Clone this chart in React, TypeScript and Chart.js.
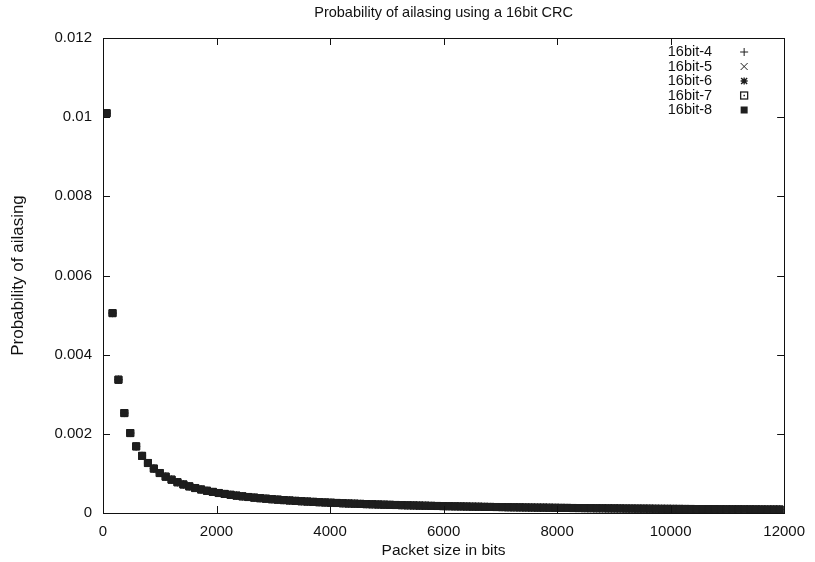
import { useEffect, useRef } from 'react';
import { Chart, registerables } from 'chart.js';

Chart.register(...registerables);

// Packet sizes (bits)
const packetSizes = [
  64, 168, 272, 376, 480, 584, 688, 792, 896, 1000,
  1104, 1208, 1312, 1416, 1520, 1624, 1728, 1832, 1936, 2040,
  2144, 2248, 2352, 2456, 2560, 2664, 2768, 2872, 2976, 3080,
  3184, 3288, 3392, 3496, 3600, 3704, 3808, 3912, 4016, 4120,
  4224, 4328, 4432, 4536, 4640, 4744, 4848, 4952, 5056, 5160,
  5264, 5368, 5472, 5576, 5680, 5784, 5888, 5992, 6096, 6200,
  6304, 6408, 6512, 6616, 6720, 6824, 6928, 7032, 7136, 7240,
  7344, 7448, 7552, 7656, 7760, 7864, 7968, 8072, 8176, 8280,
  8384, 8488, 8592, 8696, 8800, 8904, 9008, 9112, 9216, 9320,
  9424, 9528, 9632, 9736, 9840, 9944, 10048, 10152, 10256, 10360,
  10464, 10568, 10672, 10776, 10880, 10984, 11088, 11192, 11296, 11400,
  11504, 11608, 11712, 11816, 11920,
];

// Probability of aliasing (all five CRC variants overlap in the picture)
const aliasProb = [
  10100e-6, 5050e-6, 3367e-6, 2525e-6, 2020e-6, 1683e-6, 1443e-6, 1263e-6, 1122e-6, 1010e-6,
  918e-6, 842e-6, 777e-6, 721e-6, 673e-6, 631e-6, 594e-6, 561e-6, 532e-6, 505e-6,
  481e-6, 459e-6, 439e-6, 421e-6, 404e-6, 388e-6, 374e-6, 361e-6, 348e-6, 337e-6,
  326e-6, 316e-6, 306e-6, 297e-6, 289e-6, 281e-6, 273e-6, 266e-6, 259e-6, 253e-6,
  246e-6, 240e-6, 235e-6, 230e-6, 224e-6, 220e-6, 215e-6, 210e-6, 206e-6, 202e-6,
  198e-6, 194e-6, 191e-6, 187e-6, 184e-6, 180e-6, 177e-6, 174e-6, 171e-6, 168e-6,
  166e-6, 163e-6, 160e-6, 158e-6, 155e-6, 153e-6, 151e-6, 149e-6, 146e-6, 144e-6,
  142e-6, 140e-6, 138e-6, 136e-6, 135e-6, 133e-6, 131e-6, 129e-6, 128e-6, 126e-6,
  125e-6, 123e-6, 122e-6, 120e-6, 119e-6, 117e-6, 116e-6, 115e-6, 113e-6, 112e-6,
  111e-6, 110e-6, 109e-6, 107e-6, 106e-6, 105e-6, 104e-6, 103e-6, 102e-6, 101e-6,
  100e-6, 99e-6, 98e-6, 97e-6, 96e-6, 95e-6, 94e-6, 94e-6, 93e-6, 92e-6,
  91e-6, 90e-6, 89e-6, 89e-6, 88e-6,
];

const seriesNames = ['16bit-4', '16bit-5', '16bit-6', '16bit-7', '16bit-8'];
const seriesMarkers = ['plus', 'cross', 'star', 'openSquare', 'filledSquare'];

const titleText = 'Probability of ailasing using a 16bit CRC';
const xTitle = 'Packet size in bits';
const yTitle = 'Probability of ailasing';

const FONT = '"Liberation Sans", Arial, Helvetica, sans-serif';
const INK = '#111';
const MARK = '#1e1e1e';

function drawMarker(ctx: CanvasRenderingContext2D, kind: string, x: number, y: number) {
  ctx.save();
  ctx.strokeStyle = MARK;
  ctx.fillStyle = MARK;
  ctx.lineWidth = 1;
  ctx.beginPath();
  if (kind === 'plus') {
    ctx.moveTo(x - 4, y); ctx.lineTo(x + 4, y);
    ctx.moveTo(x, y - 4); ctx.lineTo(x, y + 4);
    ctx.stroke();
  } else if (kind === 'cross') {
    ctx.moveTo(x - 3.5, y - 3.5); ctx.lineTo(x + 3.5, y + 3.5);
    ctx.moveTo(x - 3.5, y + 3.5); ctx.lineTo(x + 3.5, y - 3.5);
    ctx.stroke();
  } else if (kind === 'star') {
    ctx.lineWidth = 1.4;
    ctx.moveTo(x - 3, y - 3); ctx.lineTo(x + 3, y + 3);
    ctx.moveTo(x - 3, y + 3); ctx.lineTo(x + 3, y - 3);
    ctx.moveTo(x - 3.5, y); ctx.lineTo(x + 3.5, y);
    ctx.moveTo(x, y - 3.5); ctx.lineTo(x, y + 3.5);
    ctx.stroke();
  } else if (kind === 'openSquare') {
    ctx.lineWidth = 1.3;
    ctx.strokeRect(x - 3.5, y - 3.5, 7, 7);
    ctx.fillRect(x - 0.7, y - 0.7, 1.5, 1.5);
  } else {
    ctx.fillRect(x - 3.5, y - 3.5, 7, 7);
  }
  ctx.restore();
}

const framePlugin = {
  id: 'gnuFrame',
  afterDraw(chart: any) {
    const { ctx, chartArea } = chart;
    const { left, right, top, bottom } = chartArea;
    const xs = chart.scales.x;
    const ys = chart.scales.y;
    ctx.save();
    ctx.strokeStyle = INK;
    ctx.lineWidth = 1;
    ctx.strokeRect(Math.round(left) + 0.5, Math.round(top) + 0.5, Math.round(right - left), Math.round(bottom - top));
    ctx.beginPath();
    const tl = 7;
    xs.ticks.forEach((t: any) => {
      const px = Math.round(xs.getPixelForValue(t.value)) + 0.5;
      ctx.moveTo(px, bottom); ctx.lineTo(px, bottom - tl);
      ctx.moveTo(px, top); ctx.lineTo(px, top + tl);
    });
    ys.ticks.forEach((t: any) => {
      const py = Math.round(ys.getPixelForValue(t.value)) + 0.5;
      ctx.moveTo(left, py); ctx.lineTo(left + tl, py);
      ctx.moveTo(right, py); ctx.lineTo(right - tl, py);
    });
    ctx.stroke();

    // legend inside the plot, top right
    ctx.font = `14.5px ${FONT}`;
    ctx.fillStyle = INK;
    ctx.textAlign = 'right';
    ctx.textBaseline = 'middle';
    seriesNames.forEach((name, i) => {
      const y = top + 14 + i * 14.5;
      ctx.fillText(name, right - 72, y);
      drawMarker(ctx, seriesMarkers[i], right - 40, y);
    });
    ctx.restore();
  },
};

export default function App() {
  const ref = useRef<HTMLCanvasElement | null>(null);

  useEffect(() => {
    if (!ref.current) return;
    const points = packetSizes.map((x, i) => ({ x, y: aliasProb[i] }));
    const styles = [
      { pointStyle: 'cross', pointRadius: 4, backgroundColor: 'transparent' },
      { pointStyle: 'crossRot', pointRadius: 4, backgroundColor: 'transparent' },
      { pointStyle: 'star', pointRadius: 4, backgroundColor: 'transparent' },
      { pointStyle: 'rect', pointRadius: 5, backgroundColor: '#ffffff' },
      { pointStyle: 'rect', pointRadius: 5, backgroundColor: MARK },
    ];
    const chart = new Chart(ref.current, {
      type: 'scatter',
      data: {
        datasets: seriesNames.map((label, i) => ({
          label,
          data: points,
          showLine: false,
          borderColor: MARK,
          borderWidth: 1,
          order: seriesNames.length - 1 - i,
          ...styles[i],
        })) as any,
      },
      options: {
        animation: false,
        responsive: false,
        layout: { padding: { left: 0, right: 29, top: 0, bottom: 0 } },
        plugins: {
          legend: { display: false },
          tooltip: { enabled: false },
          title: {
            display: true,
            text: titleText,
            fullSize: false,
            color: INK,
            font: { family: FONT, size: 14.5, weight: 'normal' },
            padding: { top: 4, bottom: 16.6 },
          },
        },
        scales: {
          x: {
            type: 'linear',
            min: 0,
            max: 12000,
            grid: { display: false, drawTicks: false },
            border: { display: true, color: INK },
            ticks: {
              stepSize: 2000,
              color: INK,
              padding: 10,
              maxRotation: 0,
              font: { family: FONT, size: 15 },
              callback: (v: any) => String(v),
            },
            title: {
              display: true,
              text: xTitle,
              color: INK,
              font: { family: FONT, size: 15.5 },
              padding: { top: 1, bottom: 2 },
            },
            afterFit: (s: any) => { s.height = 49; },
          },
          y: {
            type: 'linear',
            min: 0,
            max: 0.012,
            grid: { display: false, drawTicks: false },
            border: { display: true, color: INK },
            ticks: {
              stepSize: 0.002,
              color: INK,
              padding: 11,
              font: { family: FONT, size: 15 },
              callback: (v: any) => String(Number(Number(v).toFixed(4))),
            },
            title: {
              display: true,
              text: yTitle,
              color: INK,
              font: { family: FONT, size: 17 },
              padding: { top: 8, bottom: 0 },
            },
            afterFit: (s: any) => { s.width = 103; },
          },
        },
      },
      plugins: [framePlugin],
    });
    return () => chart.destroy();
  }, []);

  return (
    <div style={{ position: 'absolute', left: 0, top: 0, width: 815, height: 562, background: '#fff' }}>
      <canvas ref={ref} width={815} height={562} />
    </div>
  );
}
